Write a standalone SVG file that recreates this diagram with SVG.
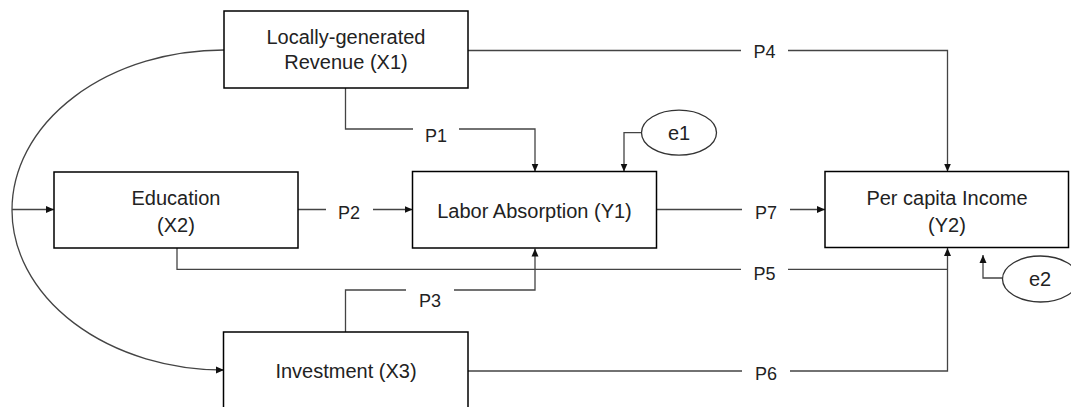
<svg xmlns="http://www.w3.org/2000/svg" width="1071" height="407" viewBox="0 0 1071 407">
<style>
.box{fill:#fff;stroke:#000;stroke-width:1.5}
.ell{fill:#fff;stroke:#333;stroke-width:1.3}
.ln{fill:none;stroke:#444;stroke-width:1.3}
.t{font-family:"Liberation Sans",Arial,sans-serif;font-size:20px;fill:#222;text-anchor:middle}
.lb{font-family:"Liberation Sans",Arial,sans-serif;font-size:18px;fill:#222;text-anchor:middle}
.bg{fill:#fff;stroke:none}
</style>
<defs>
<marker id="ah" markerUnits="userSpaceOnUse" markerWidth="9" markerHeight="8" refX="8" refY="4" orient="auto">
<path d="M0,0.5 L8,4 L0,7.5 Z" fill="#111"/>
</marker>
</defs>
<rect width="1071" height="407" fill="#fff"/>
<g id="connectors">
<path class="ln" d="M224,50 A212,160 0 0 0 224,370" marker-end="url(#ah)"/>
<path class="ln" d="M12,209.5 L54,209.5" marker-end="url(#ah)"/>
<path class="ln" d="M345.5,88 L345.5,129 L535,129 L535,171.5" marker-end="url(#ah)"/>
<path class="ln" d="M468,50.5 L947.5,50.5 L947.5,171.5" marker-end="url(#ah)"/>
<path class="ln" d="M641.5,132.7 L624,132.7 L624,171.5" marker-end="url(#ah)"/>
<path class="ln" d="M298,209.5 L412.5,209.5" marker-end="url(#ah)"/>
<path class="ln" d="M656.5,209.5 L825,209.5" marker-end="url(#ah)"/>
<path class="ln" d="M177,248 L177,269.3 L947.5,269.3"/>
<path class="ln" d="M345.5,332 L345.5,290 L535,290 L535,248.5" marker-end="url(#ah)"/>
<path class="ln" d="M468,371 L947.5,371 L947.5,248" marker-end="url(#ah)"/>
<path class="ln" d="M1002.7,278 L983,278 L983,255" marker-end="url(#ah)"/>
<rect class="bg" x="413" y="115" width="46" height="34"/>
<text class="lb" x="436" y="141.5">P1</text>
<rect class="bg" x="741" y="36" width="47" height="32"/>
<text class="lb" x="764.5" y="58">P4</text>
<rect class="bg" x="326" y="196" width="47" height="30"/>
<text class="lb" x="349" y="218.5">P2</text>
<rect class="bg" x="742" y="196" width="48" height="30"/>
<text class="lb" x="766" y="218.5">P7</text>
<rect class="bg" x="741" y="256" width="47" height="32"/>
<text class="lb" x="764.5" y="280">P5</text>
<rect class="bg" x="406" y="280" width="48" height="34"/>
<text class="lb" x="430" y="306.5">P3</text>
<rect class="bg" x="742" y="358" width="48" height="32"/>
<text class="lb" x="766" y="380">P6</text>
</g>
<g id="x1">
<rect class="box" x="224" y="11" width="244" height="77"/>
<text class="t" x="346" y="43.5">Locally-generated</text>
<text class="t" x="346" y="69">Revenue (X1)</text>
</g>
<g id="x2">
<rect class="box" x="54" y="172" width="244" height="76"/>
<text class="t" x="176" y="204.5">Education</text>
<text class="t" x="176" y="231.5">(X2)</text>
</g>
<g id="y1">
<rect class="box" x="412.5" y="171.5" width="244" height="76.5"/>
<text class="t" x="534.5" y="218">Labor Absorption (Y1)</text>
</g>
<g id="y2">
<rect class="box" x="825" y="171.5" width="243.5" height="76"/>
<text class="t" x="947" y="205">Per capita Income</text>
<text class="t" x="947" y="232">(Y2)</text>
</g>
<g id="x3">
<rect class="box" x="223.5" y="332" width="244.5" height="90"/>
<text class="t" x="346" y="378">Investment (X3)</text>
</g>
<g id="e1">
<ellipse class="ell" cx="679" cy="132.7" rx="37.5" ry="22.5"/>
<text class="t" x="679" y="140">e1</text>
</g>
<g id="e2">
<ellipse class="ell" cx="1040.5" cy="279" rx="38" ry="23"/>
<text class="t" x="1040" y="286">e2</text>
</g>
</svg>
